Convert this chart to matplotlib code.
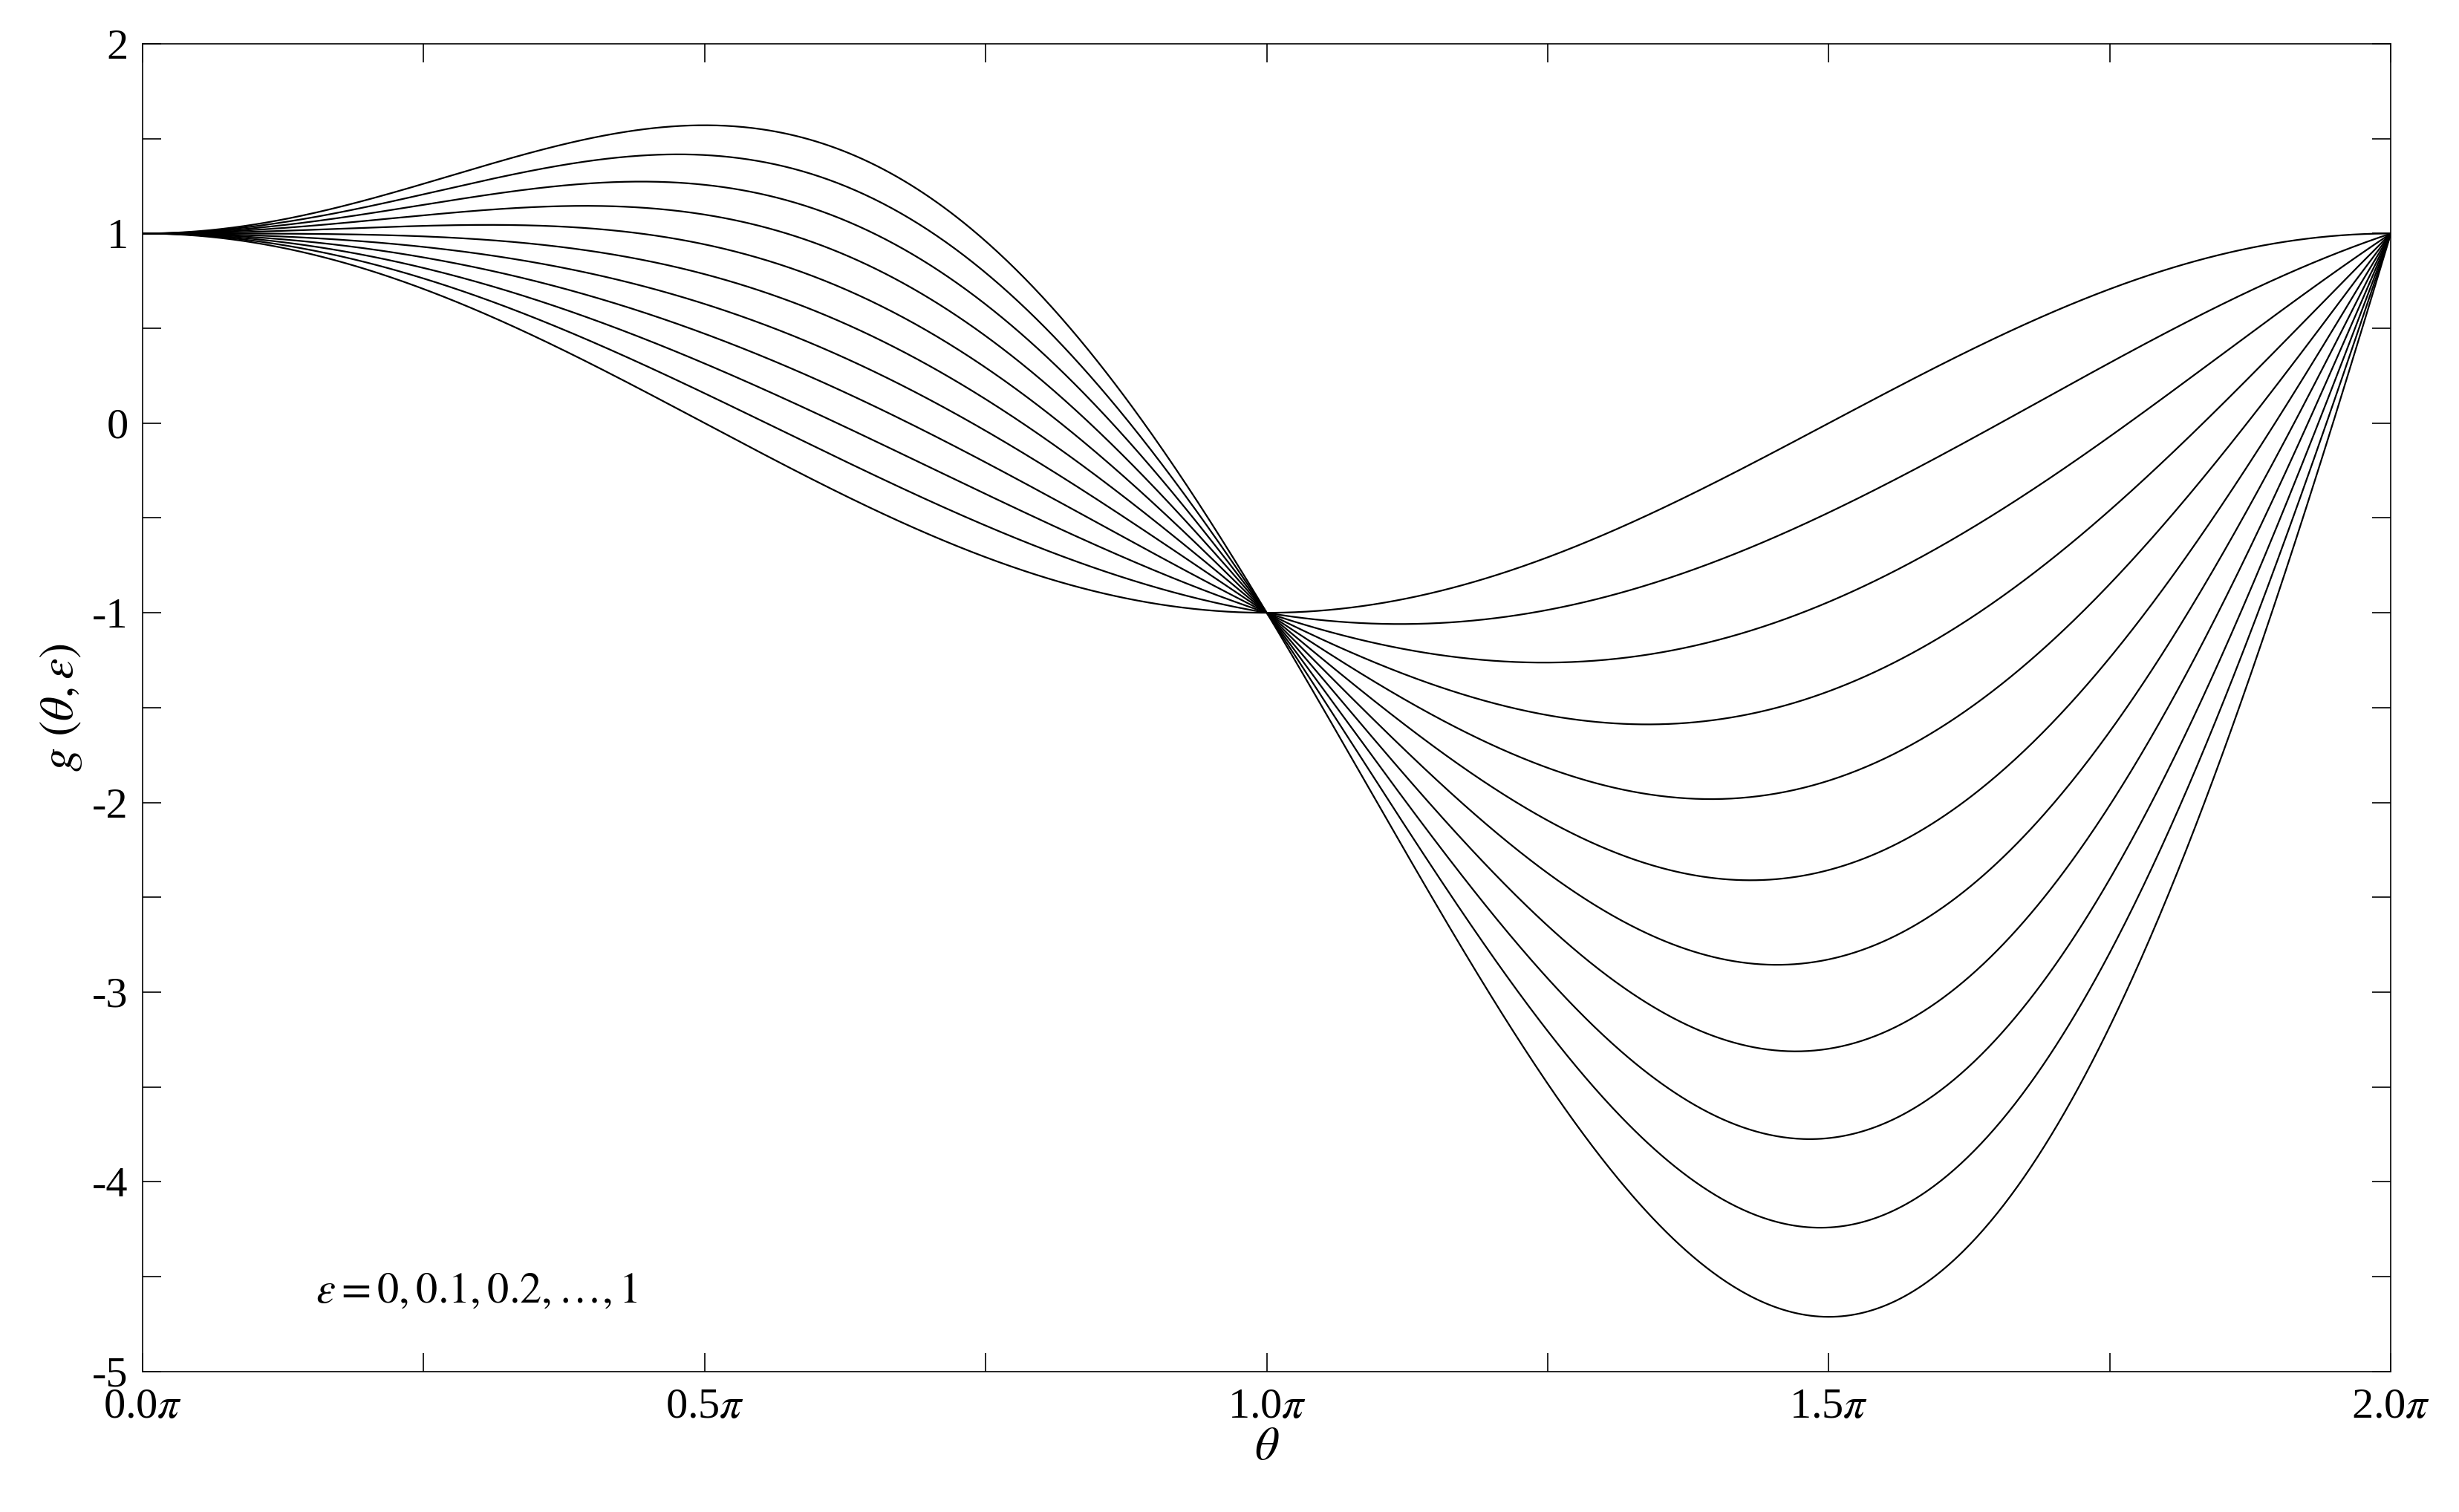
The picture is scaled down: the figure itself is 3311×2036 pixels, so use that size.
import numpy as np
import matplotlib
matplotlib.use("Agg")
import matplotlib.pyplot as plt
from matplotlib.ticker import FixedLocator, MultipleLocator

plt.rcParams['font.family'] = ['Liberation Serif', 'DejaVu Serif']
plt.rcParams['mathtext.fontset'] = 'stix'

epsilons = [0, 0.1, 0.2, 0.3, 0.4, 0.5, 0.6, 0.7, 0.8, 0.9, 1.0]
xtick_vals = [0, 0.5, 1.0, 1.5, 2.0]
xtick_labels = [r'0.0$\pi$', r'0.5$\pi$', r'1.0$\pi$', r'1.5$\pi$', r'2.0$\pi$']
ytick_vals = [2, 1, 0, -1, -2, -3, -4, -5]
ytick_labels = ['2', '1', '0', '-1', '-2', '-3', '-4', '-5']

theta = np.linspace(0, 2 * np.pi, 1000)

fig = plt.figure(figsize=(33.12, 20.36), dpi=100)
ax = fig.add_axes([0.058, 0.093, 0.914, 0.878])
for e in epsilons:
    g = np.cos(theta) + e * theta * np.sin(theta)
    ax.plot(theta / np.pi, g, color='black', lw=1.6)

ax.set_xlim(0, 2)
ax.set_ylim(-5, 2)
ax.xaxis.set_major_locator(FixedLocator(xtick_vals))
ax.set_xticklabels(xtick_labels)
ax.xaxis.set_minor_locator(MultipleLocator(0.25))
ax.yaxis.set_major_locator(FixedLocator(ytick_vals))
ax.set_yticklabels(ytick_labels)
ax.yaxis.set_minor_locator(MultipleLocator(0.5))
ax.tick_params(which='both', direction='in', top=True, right=True, labelsize=42)
ax.tick_params(axis='x', pad=16)
ax.tick_params(axis='y', pad=14)
ax.tick_params(which='both', length=18, width=1.2)
for s in ax.spines.values():
    s.set_linewidth(1.2)
ax.set_xlabel(r'$\theta$', fontsize=46, labelpad=0)
ax.set_ylabel(r'$g\ (\theta,\varepsilon)$', fontsize=46, labelpad=8)
ax.text(0.077, 0.052, r'$\varepsilon = 0, 0.1, 0.2, \ldots, 1$', transform=ax.transAxes,
        fontsize=42, va='baseline')

fig.savefig('out.png', dpi=100)
